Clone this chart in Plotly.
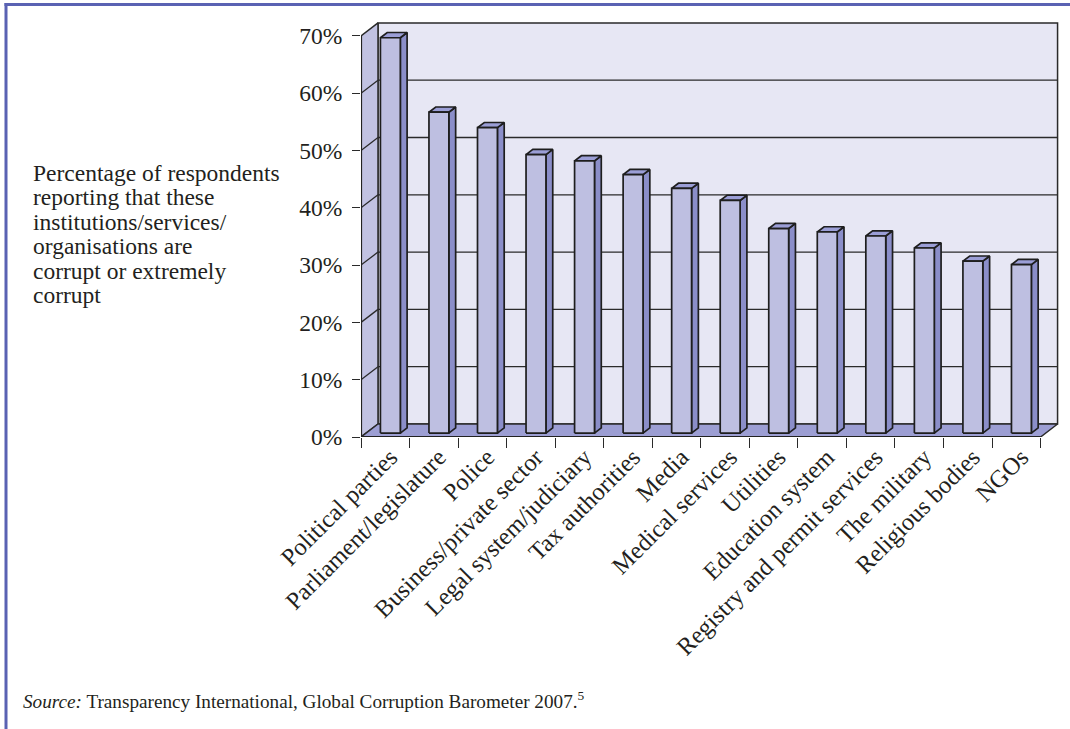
import plotly.graph_objects as go

# ---------------- data ----------------
categories = [
    "Political parties", "Parliament/legislature", "Police",
    "Business/private sector", "Legal system/judiciary", "Tax authorities",
    "Media", "Medical services", "Utilities", "Education system",
    "Registry and permit services", "The military", "Religious bodies", "NGOs",
]
values = [69.0, 56.0, 53.3, 48.6, 47.5, 45.1, 42.7, 40.6, 35.7, 35.1, 34.4, 32.3, 30.0, 29.4]
y_tick_values = [0, 10, 20, 30, 40, 50, 60, 70]
y_tick_labels = ["0%", "10%", "20%", "30%", "40%", "50%", "60%", "70%"]
y_title_lines = [
    "Percentage of respondents",
    "reporting that these",
    "institutions/services/",
    "organisations are",
    "corrupt or extremely",
    "corrupt",
]
source_text = "<i>Source:</i> Transparency International, Global Corruption Barometer 2007.<sup>5</sup>"

# ---------------- geometry / style ----------------
W, H = 1070, 729
ML, MR, MT, MB = 361, 10, 21, 292
n = len(categories)
YMAX = 70
DX, DY = 0.35, 2.27          # 3-D depth offset (category units, % units)
F0, F1 = 0.3, 0.7            # bar front/back depth fractions
BW = 0.41                    # bar width (category units)
X_RANGE = [0, n + 0.4]
Y_RANGE = [0, 72.6]

FONT = "Liberation Serif"
TXT = "#231f20"
EDGE = "#2a2a2a"
C_BACK = "#e7e7f4"
C_LEFT = "#c1c2e2"
C_FLOOR = "#9c9ed3"
C_FRONT = "#bebfe1"
C_SIDE = "#8b8ec9"
C_TOP = "#9b9ed6"
C_FRAME = "#5a62b3"


def polys(shapes):
    xs, ys = [], []
    for pts in shapes:
        for (x, y) in pts + [pts[0]]:
            xs.append(x)
            ys.append(y)
        xs.append(None)
        ys.append(None)
    return xs, ys


def add_poly(fig, shapes, fill, lw=1.2, lc=EDGE):
    xs, ys = polys(shapes)
    fig.add_trace(go.Scatter(x=xs, y=ys, mode="lines", fill="toself", fillcolor=fill,
                             line=dict(color=lc, width=lw), hoverinfo="skip", showlegend=False))


def add_lines(fig, segs, lw=1.2, lc=EDGE):
    xs, ys = [], []
    for (a, b) in segs:
        xs += [a[0], b[0], None]
        ys += [a[1], b[1], None]
    fig.add_trace(go.Scatter(x=xs, y=ys, mode="lines", line=dict(color=lc, width=lw),
                             hoverinfo="skip", showlegend=False))


fig = go.Figure()

# walls and floor
add_poly(fig, [[(DX, DY), (n + DX, DY), (n + DX, YMAX + DY), (DX, YMAX + DY)]], C_BACK, 1.5)
add_poly(fig, [[(0, 0), (DX, DY), (DX, YMAX + DY), (0, YMAX)]], C_LEFT, 1.5)
grid_vals = [v for v in y_tick_values if 0 < v < YMAX]
add_lines(fig, [((DX, v + DY), (n + DX, v + DY)) for v in grid_vals], 1.3)
add_lines(fig, [((0, v), (DX, v + DY)) for v in grid_vals], 1.3)
add_poly(fig, [[(0, 0), (n, 0), (n + DX, DY), (DX, DY)]], C_FLOOR, 1.5)
add_lines(fig, [((0, 0), (0, YMAX)), ((0, 0), (n, 0))], 2.2, "#222222")

# bars
bdx, bdy = (F1 - F0) * DX, (F1 - F0) * DY
base = F0 * DY
fronts, sides, tops = [], [], []
for i, v in enumerate(values):
    cx = i + 0.5 + F0 * DX
    xl, xr = cx - BW / 2, cx + BW / 2
    yt = base + v
    fronts.append([(xl, base), (xr, base), (xr, yt), (xl, yt)])
    sides.append([(xr, base), (xr + bdx, base + bdy), (xr + bdx, yt + bdy), (xr, yt)])
    tops.append([(xl, yt), (xr, yt), (xr + bdx, yt + bdy), (xl + bdx, yt + bdy)])
add_poly(fig, sides, C_SIDE, 1.7, "#1e1e1e")
add_poly(fig, tops, C_TOP, 1.7, "#1e1e1e")
add_poly(fig, fronts, C_FRONT, 1.7, "#1e1e1e")

fig.update_layout(
    width=W, height=H,
    margin=dict(l=ML, r=MR, t=MT, b=MB, pad=0),
    paper_bgcolor="white", plot_bgcolor="white",
    font=dict(family=FONT, color=TXT, size=24),
    showlegend=False,
    xaxis=dict(
        range=X_RANGE, showgrid=False, zeroline=False, showline=False,
        tickmode="array", tickvals=[i + 0.5 for i in range(n)], ticktext=categories,
        ticks="", tickangle=-45, tickfont=dict(size=24.5, family=FONT, color=TXT),
        ticklabelshift=5,
        minor=dict(tickmode="array", tickvals=list(range(n + 1)), ticks="outside",
                   ticklen=10, tickwidth=1.3, tickcolor=EDGE, showgrid=False),
        fixedrange=True,
    ),
    yaxis=dict(
        range=Y_RANGE, showgrid=False, zeroline=False, showline=False,
        tickmode="array", tickvals=y_tick_values, ticktext=y_tick_labels,
        ticks="outside", ticklen=8, tickwidth=1.3, tickcolor=EDGE,
        ticklabelstandoff=5,
        tickfont=dict(size=23.5, family=FONT, color=TXT), fixedrange=True,
    ),
)

pw = W - ML - MR
ph = H - MT - MB


def px_x(p):
    return (p - ML) / pw


def px_y(p):
    return (H - MB - p) / ph


annotations = []
for k, line in enumerate(y_title_lines):
    annotations.append(dict(text=line, xref="paper", yref="paper", x=px_x(31), y=px_y(173 + 24.4 * k),
                            xanchor="left", yanchor="middle", showarrow=False,
                            font=dict(size=23.5, family=FONT, color=TXT)))
annotations.append(dict(text=source_text, xref="paper", yref="paper", x=px_x(21), y=px_y(700),
                        xanchor="left", yanchor="middle", showarrow=False,
                        font=dict(size=19.2, family=FONT, color=TXT)))
fig.update_layout(annotations=annotations)

fig.update_layout(shapes=[
    dict(type="line", xref="paper", yref="paper", x0=px_x(4.5), x1=px_x(W), y0=px_y(4.5), y1=px_y(4.5),
         line=dict(color=C_FRAME, width=3)),
    dict(type="line", xref="paper", yref="paper", x0=px_x(6), x1=px_x(6), y0=px_y(3), y1=px_y(H),
         line=dict(color=C_FRAME, width=3)),
])

fig.write_html("out.html")
